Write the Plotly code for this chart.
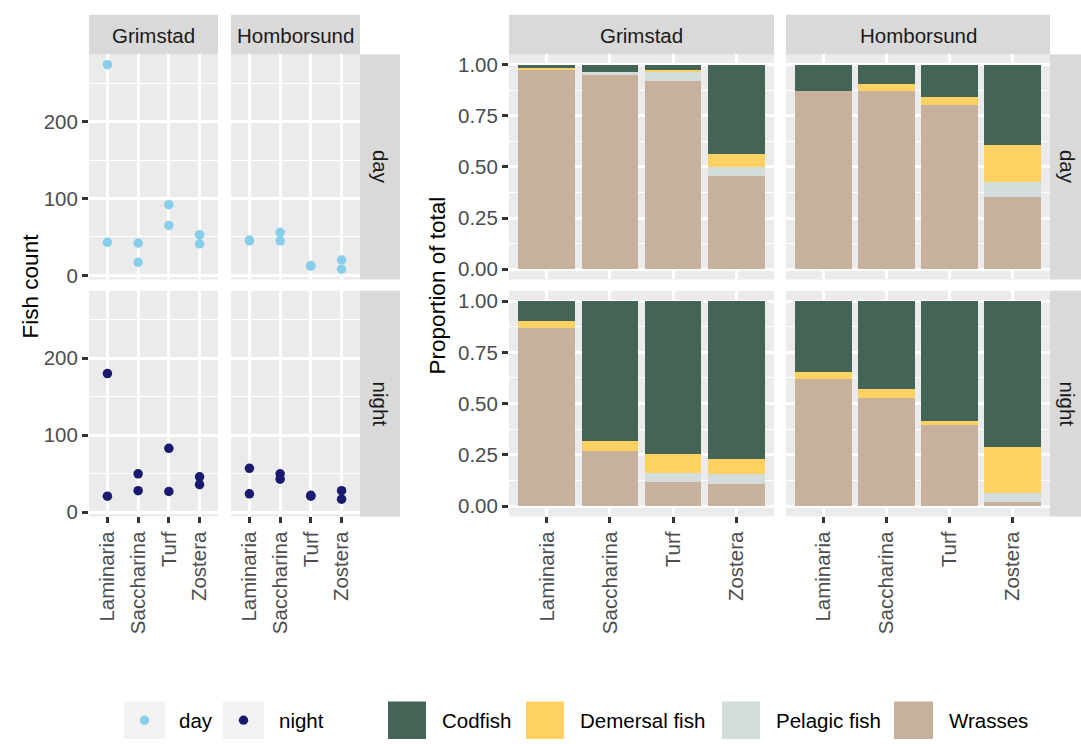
import plotly.graph_objects as go

W, H = 1081, 744

habitats = ["Laminaria", "Saccharina", "Turf", "Zostera"]
sites = ["Grimstad", "Homborsund"]
times = ["day", "night"]

# Fish counts (two replicates per habitat)
count_grimstad_day = [[274, 43], [42, 17], [92, 65], [53, 41]]
count_homborsund_day = [[45, 46], [56, 45], [13, 12], [20, 8]]
count_grimstad_night = [[180, 21], [50, 28], [83, 27], [46, 36]]
count_homborsund_night = [[57, 24], [50, 43], [22, 21], [28, 17]]

# Proportions of total by fish group
groups = ["Codfish", "Demersal fish", "Pelagic fish", "Wrasses"]
group_colors = ["#446455", "#FDD262", "#D3DDDC", "#C7B19C"]

prop_grimstad_day = {
    "Codfish": [0.015, 0.034, 0.024, 0.436],
    "Demersal fish": [0.010, 0.0, 0.010, 0.063],
    "Pelagic fish": [0.0, 0.019, 0.048, 0.044],
    "Wrasses": [0.975, 0.947, 0.918, 0.457],
}
prop_homborsund_day = {
    "Codfish": [0.131, 0.097, 0.160, 0.393],
    "Demersal fish": [0.0, 0.034, 0.039, 0.179],
    "Pelagic fish": [0.0, 0.0, 0.0, 0.073],
    "Wrasses": [0.869, 0.869, 0.801, 0.355],
}
prop_grimstad_night = {
    "Codfish": [0.095, 0.683, 0.746, 0.770],
    "Demersal fish": [0.034, 0.049, 0.092, 0.073],
    "Pelagic fish": [0.0, 0.0, 0.044, 0.049],
    "Wrasses": [0.871, 0.268, 0.118, 0.108],
}
prop_homborsund_night = {
    "Codfish": [0.348, 0.430, 0.586, 0.712],
    "Demersal fish": [0.034, 0.044, 0.019, 0.223],
    "Pelagic fish": [0.0, 0.0, 0.0, 0.044],
    "Wrasses": [0.618, 0.526, 0.395, 0.021],
}

time_colors = {"day": "#87CEEB", "night": "#191970"}

count_ticks = [0, 100, 200]
count_minor = [50, 150, 250]
prop_ticks = [0, 0.25, 0.5, 0.75, 1.0]
prop_ticklabels = ["0.00", "0.25", "0.50", "0.75", "1.00"]
prop_minor = [0.125, 0.375, 0.625, 0.875]

FONT = "Liberation Sans, Arial, sans-serif"
TICK_FONT = dict(family=FONT, size=20.5, color="#4D4D4D")


def xdom(a, b):
    return [a / W, b / W]


def ydom(top, bot):
    return [1 - bot / H, 1 - top / H]


# pixel geometry
row_top = (54, 281.5)
row_bot = (293, 521)
left_cols = [(89, 218), (231, 360)]
right_cols = [(509, 774), (786, 1050)]

fig = go.Figure()
layout = {}

count_data = {
    ("Grimstad", "day"): count_grimstad_day,
    ("Homborsund", "day"): count_homborsund_day,
    ("Grimstad", "night"): count_grimstad_night,
    ("Homborsund", "night"): count_homborsund_night,
}
prop_data = {
    ("Grimstad", "day"): prop_grimstad_day,
    ("Homborsund", "day"): prop_homborsund_day,
    ("Grimstad", "night"): prop_grimstad_night,
    ("Homborsund", "night"): prop_homborsund_night,
}

axis_idx = 0


def make_axes(xd, yd, bottom, leftmost, yrange, ticks, ticktext, minor):
    global axis_idx
    axis_idx += 1
    n = axis_idx
    sx = "" if n == 1 else str(n)
    xa = dict(
        domain=xd, anchor="y" + sx, type="category",
        categoryorder="array", categoryarray=habitats,
        range=[-0.6, 3.6], showgrid=True, gridcolor="white", gridwidth=2.7,
        zeroline=False, showline=False, fixedrange=True,
        tickangle=-90, tickfont=TICK_FONT,
    )
    if bottom:
        xa.update(ticks="outside", ticklen=6, tickwidth=2.5, tickcolor="#333333",
                  showticklabels=True)
    else:
        xa.update(ticks="", showticklabels=False)
    ya = dict(
        domain=yd, anchor="x" + sx, range=yrange, showgrid=True,
        gridcolor="white", gridwidth=2.7, zeroline=False, showline=False,
        tickvals=ticks, ticktext=ticktext, tickfont=TICK_FONT, fixedrange=True,
        minor=dict(tickvals=minor, showgrid=True, gridcolor="white",
                   gridwidth=1.4, ticks=""),
    )
    if leftmost:
        ya.update(ticks="outside", ticklen=6, tickwidth=2.5, tickcolor="#333333",
                  showticklabels=True)
    else:
        ya.update(ticks="", showticklabels=False)
    layout["xaxis" + sx] = xa
    layout["yaxis" + sx] = ya
    return "x" + sx, "y" + sx


# Left: counts
for ti, t in enumerate(times):
    rows = row_top if ti == 0 else row_bot
    for si, s in enumerate(sites):
        xa, ya = make_axes(xdom(*left_cols[si]), ydom(*rows), ti == 1, si == 0,
                           [-5.3, 287.3], count_ticks,
                           [str(v) for v in count_ticks], count_minor)
        vals = count_data[(s, t)]
        xs, ys = [], []
        for h, reps in zip(habitats, vals):
            for v in reps:
                xs.append(h)
                ys.append(v)
        fig.add_trace(go.Scatter(
            x=xs, y=ys, mode="markers", xaxis=xa, yaxis=ya,
            marker=dict(size=9.5, color=time_colors[t]), showlegend=False,
            hoverinfo="x+y"))

# Right: proportions
for ti, t in enumerate(times):
    rows = row_top if ti == 0 else row_bot
    for si, s in enumerate(sites):
        xa, ya = make_axes(xdom(*right_cols[si]), ydom(*rows), ti == 1, si == 0,
                           [-0.05, 1.05], prop_ticks, prop_ticklabels, prop_minor)
        d = prop_data[(s, t)]
        for g, c in reversed(list(zip(groups, group_colors))):
            fig.add_trace(go.Bar(
                x=habitats, y=d[g], xaxis=xa, yaxis=ya, width=0.9,
                marker=dict(color=c, line=dict(width=0)), name=g,
                showlegend=False))

shapes = []
annotations = []

STRIP = "#D9D9D9"
strip_font = dict(family=FONT, size=20.5, color="#1A1A1A")

# Column strips
for cols in (left_cols, right_cols):
    for si, (a, b) in enumerate(cols):
        shapes.append(dict(type="rect", xref="paper", yref="paper",
                           x0=a / W, x1=b / W, y0=1 - 54 / H, y1=1 - 14 / H,
                           fillcolor=STRIP, line=dict(width=0), layer="below"))
        annotations.append(dict(text=sites[si], xref="paper", yref="paper",
                                x=(a + b) / 2 / W, y=1 - 34.5 / H, showarrow=False,
                                font=strip_font, xanchor="center", yanchor="middle"))

# Row strips
for (a, b) in [(360, 400), (1050, 1081)]:
    for ti, rows in enumerate([row_top, row_bot]):
        shapes.append(dict(type="rect", xref="paper", yref="paper",
                           x0=a / W, x1=b / W, y0=1 - rows[1] / H, y1=1 - rows[0] / H,
                           fillcolor=STRIP, line=dict(width=0), layer="below"))
        annotations.append(dict(text=times[ti], xref="paper", yref="paper",
                                x=(a + b) / 2 / W if a < 1000 else 1067 / W,
                                y=1 - (rows[0] + rows[1]) / 2 / H,
                                showarrow=False, textangle=90, font=strip_font,
                                xanchor="center", yanchor="middle"))

# Axis titles
title_font = dict(family=FONT, size=22.5, color="black")
annotations.append(dict(text="Fish count", xref="paper", yref="paper",
                        x=30 / W, y=1 - 287.5 / H, textangle=-90, showarrow=False,
                        font=title_font, xanchor="center", yanchor="middle"))
annotations.append(dict(text="Proportion of total", xref="paper", yref="paper",
                        x=437 / W, y=1 - 287.5 / H, textangle=-90, showarrow=False,
                        font=title_font, xanchor="center", yanchor="middle"))

# Legend
leg_font = dict(family=FONT, size=20.5, color="black")
ky0, ky1 = 708, 746
kyc = (ky0 + ky1) / 2
for lbl, (a, b), tx in [("day", (124, 165), 177), ("night", (223, 264), 277)]:
    shapes.append(dict(type="rect", xref="paper", yref="paper",
                       x0=a / W, x1=b / W, y0=1 - ky1 / H, y1=1 - ky0 / H,
                       fillcolor="#F2F2F2", line=dict(width=0)))
    cx = (a + b) / 2
    r = 4.7
    shapes.append(dict(type="circle", xref="paper", yref="paper",
                       x0=(cx - r) / W, x1=(cx + r) / W,
                       y0=1 - (kyc + r) / H, y1=1 - (kyc - r) / H,
                       fillcolor=time_colors[lbl], line=dict(width=0)))
    annotations.append(dict(text=lbl, xref="paper", yref="paper", x=tx / W,
                            y=1 - kyc / H, showarrow=False, font=leg_font,
                            xanchor="left", yanchor="middle"))

for g, c, (a, b), tx in zip(groups, group_colors,
                            [(388, 426), (526, 564), (722, 760), (894, 933)],
                            [440, 578, 774, 947]):
    shapes.append(dict(type="rect", xref="paper", yref="paper",
                       x0=a / W, x1=b / W, y0=1 - ky1 / H, y1=1 - ky0 / H,
                       fillcolor=c, line=dict(width=0)))
    annotations.append(dict(text=g, xref="paper", yref="paper", x=tx / W,
                            y=1 - kyc / H, showarrow=False, font=leg_font,
                            xanchor="left", yanchor="middle"))

fig.update_layout(
    width=W, height=H,
    margin=dict(l=0, r=0, t=0, b=0),
    paper_bgcolor="white", plot_bgcolor="#EBEBEB",
    barmode="stack", bargap=0.1,
    showlegend=False,
    font=dict(family=FONT),
    shapes=shapes, annotations=annotations,
    **layout,
)

fig.write_html(
    "out.html",
    config={"displayModeBar": False},
    post_script="document.body.style.margin='0px';document.body.style.overflow='hidden';",
)
